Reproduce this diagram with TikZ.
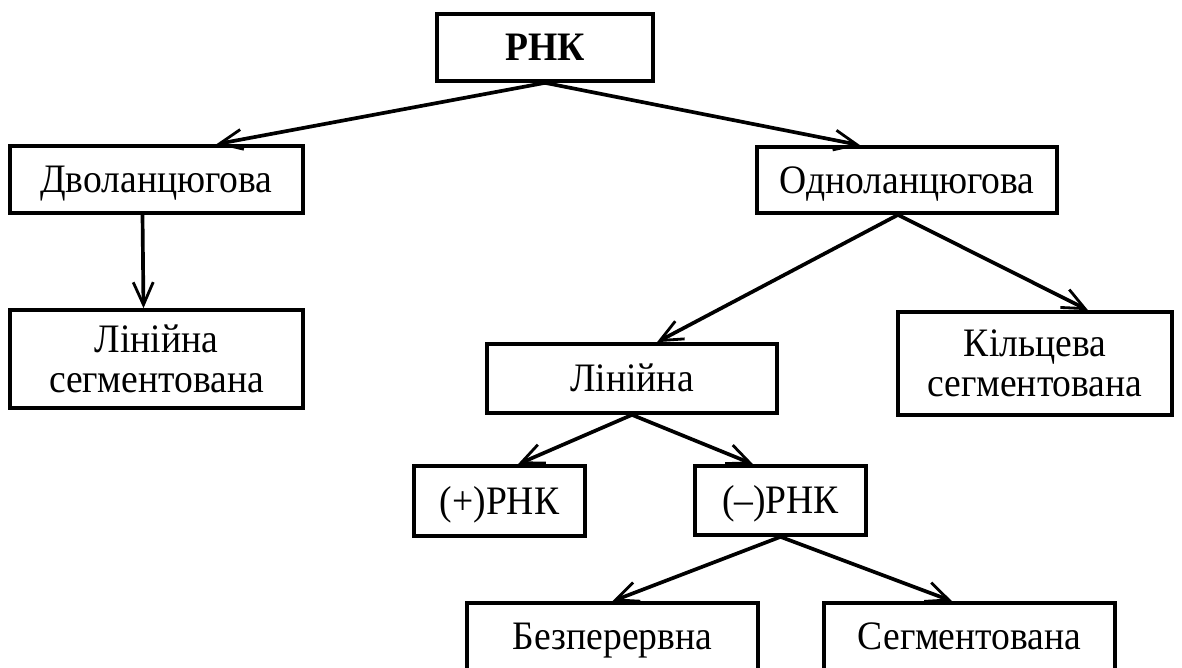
\documentclass[tikz,border=0pt]{standalone}
\usepackage{fontspec}
\setmainfont{Liberation Serif}[FakeStretch=0.93]
\usetikzlibrary{arrows.meta}
\begin{document}
\begin{tikzpicture}[
    x=0.02cm, y=-0.02cm,
    every node/.style={draw, line width=2.1pt, inner sep=2pt, align=center, font=\fontsize{23}{22.7}\selectfont},
    flat/.style={text height=15.2pt, text depth=0pt},
    link/.style={draw, line width=2.1pt, -{Straight Barb[length=0.45cm,width=0.4cm,line width=1.6pt]}}
]
\useasboundingbox (0,0) rectangle (1182,668);
\clip (0,0) rectangle (1182,668);
\node[flat, minimum width=4.32cm, minimum height=1.34cm] (rnk) at (545,47.5) {\bfseries РНК};
\node[flat, minimum width=5.86cm, minimum height=1.34cm] (dvo) at (156.5,179.5) {Дволанцюгова};
\node[flat, minimum width=6cm, minimum height=1.32cm] (odno) at (907,180) {Одноланцюгова};
\node[minimum width=5.86cm, minimum height=1.96cm] (linseg) at (156.5,359) {Лінійна\\сегментована};
\node[flat, minimum width=5.8cm, minimum height=1.38cm] (lin) at (632,378.5) {Лінійна};
\node[minimum width=5.48cm, minimum height=2.06cm] (kilseg) at (1035,363.5) {Кільцева\\сегментована};
\node[flat, minimum width=3.42cm, minimum height=1.4cm] (plus) at (499.5,501) {(+)РНК};
\node[flat, minimum width=3.42cm, minimum height=1.38cm] (minus) at (780.5,500.5) {(–)РНК};
\node[flat, minimum width=5.82cm, minimum height=1.34cm] (bez) at (612.5,636.5) {Безперервна};
\node[flat, minimum width=5.82cm, minimum height=1.34cm] (seg) at (969.5,636.5) {Сегментована};
\draw[link] (rnk.south) -- ([xshift=1.2cm]dvo.north);
\draw[link] (rnk.south) -- ([xshift=-0.94cm]odno.north);
\draw[link] ([xshift=-0.28cm]dvo.south) -- ([xshift=-0.26cm]linseg.north);
\draw[link] ([xshift=-0.18cm]odno.south) -- ([xshift=0.5cm]lin.north);
\draw[link] ([xshift=-0.18cm]odno.south) -- ([xshift=1.06cm]kilseg.north);
\draw[link] (lin.south) -- ([xshift=0.37cm]plus.north);
\draw[link] (lin.south) -- ([xshift=-0.55cm]minus.north);
\draw[link] (minus.south) -- (bez.north);
\draw[link] (minus.south) -- ([xshift=-0.35cm]seg.north);
\end{tikzpicture}
\end{document}
